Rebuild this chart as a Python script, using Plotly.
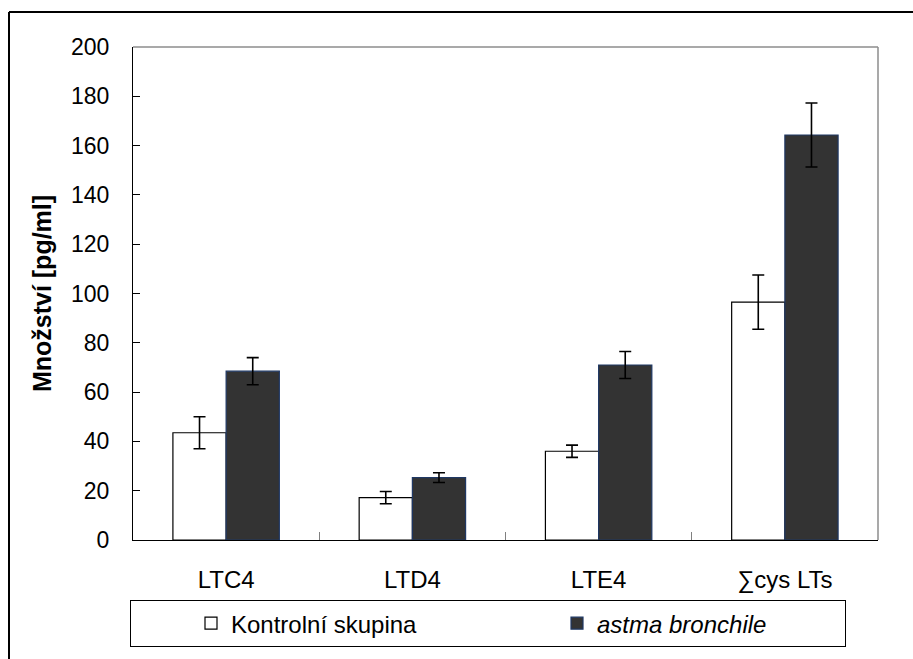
import plotly.graph_objects as go

categories = ["LTC4", "LTD4", "LTE4", "∑cys LTs"]
kontrolni = [43.5, 17.2, 36.0, 96.5]
kontrolni_err = [6.5, 2.5, 2.5, 11.0]
astma = [68.5, 25.3, 71.0, 164.3]
astma_err = [5.5, 2.0, 5.5, 13.0]
y_ticks = [0, 20, 40, 60, 80, 100, 120, 140, 160, 180, 200]

FONT = "Liberation Sans, Arial, sans-serif"

fig = go.Figure()
fig.add_trace(go.Bar(
    x=categories, y=kontrolni, name="Kontrolní skupina",
    marker=dict(color="white", line=dict(color="black", width=1.2)),
    error_y=dict(type="data", array=kontrolni_err, color="black", thickness=1.6, width=6),
    legendwidth=261,
))
fig.add_trace(go.Bar(
    x=categories, y=astma, name="<i>astma bronchile</i>",
    marker=dict(color="#333333", line=dict(color="#1f3864", width=1.2)),
    error_y=dict(type="data", array=astma_err, color="black", thickness=1.6, width=6),
    legendwidth=243,
))

W, H = 913, 659
L, T = 133, 47
R = W - 878
B = H - 548
pw, ph = W - L - R, H - T - B

def px(xs):  # screen x -> paper
    return (xs - L) / pw

def py(ys):  # screen y -> paper
    return (H - B - ys) / ph

shapes = [
    # outer frame (left and top edges)
    dict(type="line", xref="paper", yref="paper", x0=px(9), x1=px(9), y0=py(670), y1=py(11.5),
         line=dict(color="black", width=2)),
    dict(type="line", xref="paper", yref="paper", x0=px(9), x1=px(925), y0=py(11.5), y1=py(11.5),
         line=dict(color="black", width=2)),
    # plot area gray top / right border
    dict(type="line", xref="paper", yref="paper", x0=0, x1=1, y0=1, y1=1,
         line=dict(color="#8c8c8c", width=1.5)),
    dict(type="line", xref="paper", yref="paper", x0=1, x1=1, y0=0, y1=1,
         line=dict(color="#8c8c8c", width=1.5)),
]

fig.update_layout(
    width=W, height=H,
    margin=dict(l=L, r=R, t=T, b=B),
    paper_bgcolor="white", plot_bgcolor="white",
    font=dict(family=FONT, size=24, color="black"),
    barmode="group", bargap=0.4286, bargroupgap=0,
    shapes=shapes,
    showlegend=True,
    legend=dict(
        orientation="h", x=px(130), xanchor="left", y=py(609), yanchor="top",
        bordercolor="black", borderwidth=1, bgcolor="white",
        font=dict(family=FONT, size=24, color="black"),
        indentation=60, traceorder="normal",
    ),
    xaxis=dict(
        type="category", showline=True, linecolor="black", linewidth=1,
        ticks="inside", tickson="boundaries", ticklen=8, tickcolor="#808080",
        showgrid=False, ticklabelstandoff=18,
        tickfont=dict(family=FONT, size=24),
    ),
    yaxis=dict(
        range=[0, 200], tickvals=y_ticks, showline=True, linecolor="black", linewidth=1,
        ticks="inside", ticklen=7, tickcolor="black", showgrid=False, zeroline=False,
        ticklabelstandoff=18, tickfont=dict(family=FONT, size=23),
        title=dict(text="<b>Množství [pg/ml]</b>", font=dict(family=FONT, size=25), standoff=12),
    ),
)

fig.write_html(
    "out.html",
    config={"displayModeBar": False},
    post_script="document.body.style.margin='0';document.documentElement.style.overflow='hidden';",
)
